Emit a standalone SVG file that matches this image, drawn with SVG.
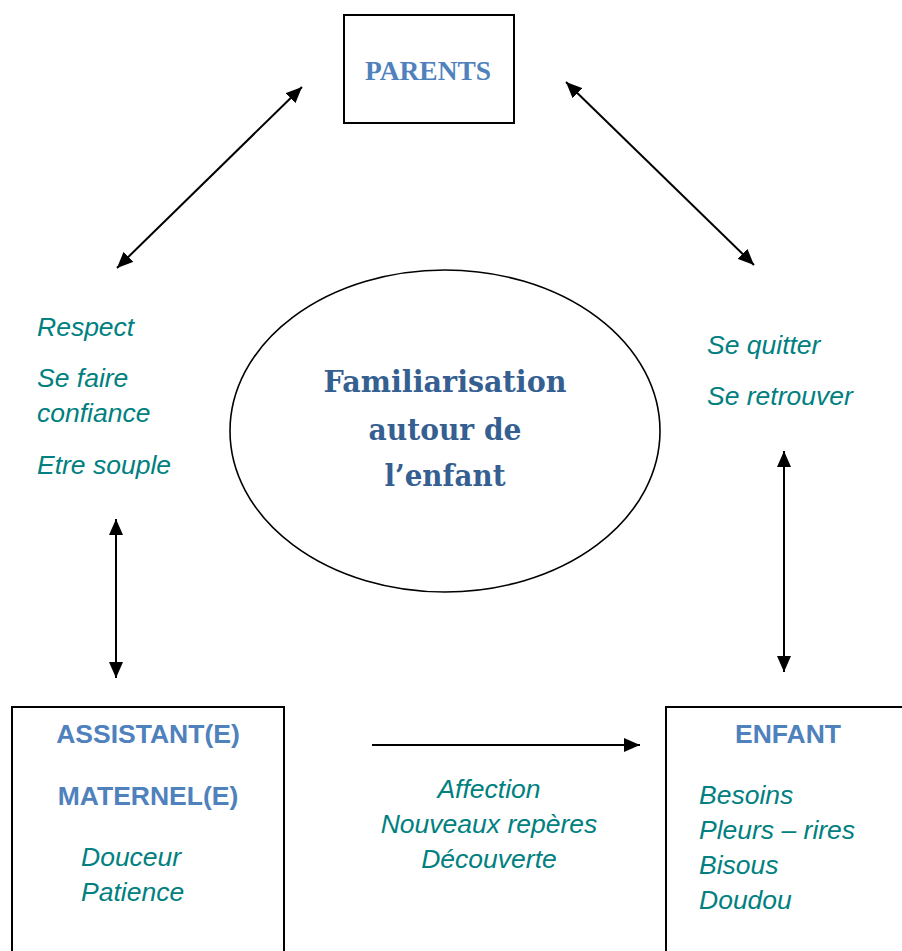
<svg xmlns="http://www.w3.org/2000/svg" width="902" height="951" viewBox="0 0 902 951">
<defs>
<marker id="ah" viewBox="0 0 16 14" refX="16" refY="7" markerWidth="16" markerHeight="14" markerUnits="userSpaceOnUse" orient="auto-start-reverse">
<path d="M0,0 L16,7 L0,14 Z" fill="#000"/>
</marker>
<style>
.box{fill:#fff;stroke:#000;stroke-width:2}
.con{stroke:#000;stroke-width:2;fill:none;marker-start:url(#ah);marker-end:url(#ah)}
.one{stroke:#000;stroke-width:2;fill:none;marker-end:url(#ah)}
.head{font-family:"Liberation Sans",Arial,sans-serif;font-weight:bold;font-size:26.5px;fill:#4F81BD}
.serifhead{font-family:"Liberation Serif","Times New Roman",serif;font-weight:bold;fill:#4F81BD}
.center{font-family:"DejaVu Serif","Liberation Serif",serif;font-weight:bold;font-size:30px;fill:#365F91}
.it{font-family:"Liberation Sans",Arial,sans-serif;font-style:italic;font-size:26.5px;fill:#008080}
</style>
</defs>
<rect width="902" height="951" fill="#fff"/>
<g id="connectors">
<line class="con" x1="117" y1="268" x2="302" y2="87"/>
<line class="con" x1="566" y1="82" x2="754" y2="265"/>
<line class="con" x1="116" y1="519" x2="116" y2="678"/>
<line class="con" x1="784" y1="451" x2="784" y2="672"/>
<line class="one" x1="372" y1="745" x2="640" y2="745"/>
</g>
<g id="parents">
<rect class="box" x="344" y="15" width="170" height="108"/>
<text class="serifhead" x="428" y="80" text-anchor="middle" font-size="28" textLength="126" lengthAdjust="spacingAndGlyphs">PARENTS</text>
</g>
<g id="familiarisation">
<ellipse cx="445" cy="431" rx="215" ry="161" fill="#fff" stroke="#000" stroke-width="1.6"/>
<text class="center" x="445" y="392" text-anchor="middle" textLength="243" lengthAdjust="spacingAndGlyphs">Familiarisation</text>
<text class="center" x="445" y="440" text-anchor="middle" textLength="153" lengthAdjust="spacingAndGlyphs">autour de</text>
<text class="center" x="445" y="486" text-anchor="middle" textLength="121" lengthAdjust="spacingAndGlyphs">l’enfant</text>
</g>
<g id="left-labels">
<text class="it" x="37" y="336">Respect</text>
<text class="it" x="37" y="387">Se faire</text>
<text class="it" x="37" y="422">confiance</text>
<text class="it" x="37" y="474">Etre souple</text>
</g>
<g id="right-labels">
<text class="it" x="707" y="354">Se quitter</text>
<text class="it" x="707" y="405">Se retrouver</text>
</g>
<g id="assistante">
<rect class="box" x="12" y="707" width="272" height="260"/>
<text class="head" x="148" y="743" text-anchor="middle">ASSISTANT(E)</text>
<text class="head" x="148" y="805" text-anchor="middle">MATERNEL(E)</text>
<text class="it" x="81" y="866">Douceur</text>
<text class="it" x="81" y="901">Patience</text>
</g>
<g id="middle-labels">
<text class="it" x="489" y="798" text-anchor="middle">Affection</text>
<text class="it" x="489" y="833" text-anchor="middle">Nouveaux repères</text>
<text class="it" x="489" y="868" text-anchor="middle">Découverte</text>
</g>
<g id="enfant">
<rect class="box" x="666" y="707" width="260" height="260"/>
<text class="head" x="788" y="743" text-anchor="middle">ENFANT</text>
<text class="it" x="699" y="804">Besoins</text>
<text class="it" x="699" y="839">Pleurs – rires</text>
<text class="it" x="699" y="874">Bisous</text>
<text class="it" x="699" y="909">Doudou</text>
</g>
</svg>
